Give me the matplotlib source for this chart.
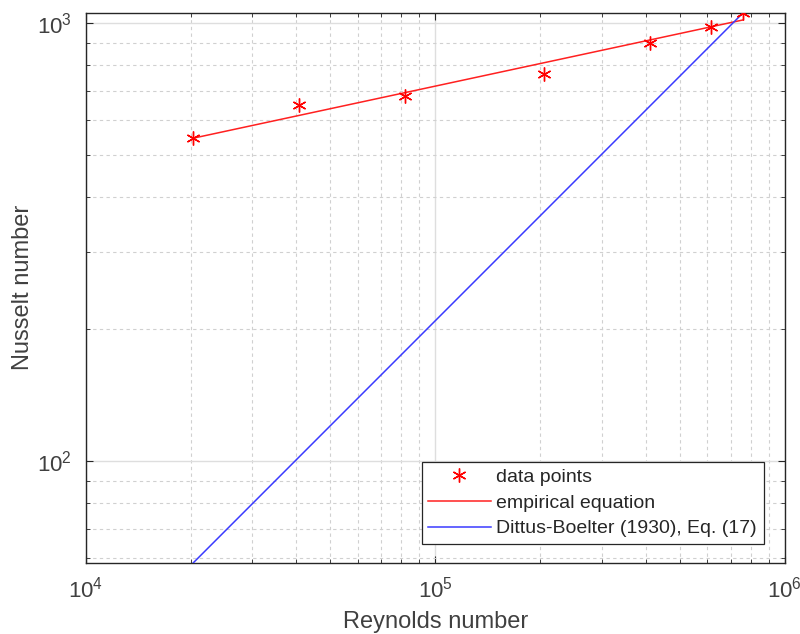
import matplotlib.pyplot as plt
import numpy as np
from matplotlib.ticker import LogLocator, NullFormatter

plt.rcParams['font.family'] = ['Liberation Sans', 'DejaVu Sans']
plt.rcParams['mathtext.fontset'] = 'custom'
plt.rcParams['mathtext.rm'] = 'Liberation Sans'
plt.rcParams['mathtext.it'] = 'Liberation Sans:italic'

# measured points
re_data = [2.03e4, 4.08e4, 8.19e4, 2.05e5, 4.11e5, 6.14e5, 7.57e5]
nu_data = [545, 649, 681, 764, 897, 979, 1050]

# fitted empirical curve and Dittus-Boelter correlation (end points)
re_line = [2.03e4, 7.57e5]
nu_emp = [545, 1014]
nu_db = [58.5, 1050]

txt = '#404040'

fig = plt.figure(figsize=(8, 6.34), dpi=100)
ax = fig.add_axes([0.107, 0.112, 0.874, 0.868])

ax.plot(re_data, nu_data, linestyle='none', marker=(6, 2, 0), color='#ff0000',
        markersize=10, markeredgewidth=1.0, label='data points', zorder=4)
ax.plot(re_line, nu_emp, color='#ff2020', lw=1.1, label='empirical equation', zorder=3)
ax.plot(re_line, nu_db, color='#3a3aff', lw=1.1, label='Dittus-Boelter (1930), Eq. (17)', zorder=3)

ax.set_xscale('log')
ax.set_yscale('log')
ax.set_xlim(1e4, 1e6)
ax.set_ylim(58.5, 1054)

ax.xaxis.set_minor_locator(LogLocator(base=10, subs=np.arange(2, 10)))
ax.yaxis.set_minor_locator(LogLocator(base=10, subs=np.arange(2, 10)))
ax.xaxis.set_minor_formatter(NullFormatter())
ax.yaxis.set_minor_formatter(NullFormatter())

ax.grid(which='major', color='#dedede', lw=1.0, linestyle='-')
ax.grid(which='minor', color='#d0d0d0', lw=0.8, linestyle=(0, (3, 3)))
ax.set_axisbelow(True)

ax.tick_params(which='both', direction='in', top=True, right=True, colors='#262626',
               labelcolor=txt, labelsize=16)
ax.tick_params(which='major', length=5, width=0.8, pad=10)
ax.tick_params(which='minor', length=3, width=0.6)
for s in ax.spines.values():
    s.set_color('#262626')
    s.set_linewidth(1.0)

ax.set_xlabel('Reynolds number', fontsize=17, color=txt, labelpad=6)
ax.set_ylabel('Nusselt number', fontsize=17, color=txt, labelpad=2)

leg = ax.legend(loc='lower right', bbox_to_anchor=(0.970, 0.034), borderaxespad=0,
                fontsize=14, fancybox=False, framealpha=1, edgecolor='#262626',
                handlelength=3.2, handletextpad=0.3, labelspacing=0.42, borderpad=0.35)
leg.get_frame().set_linewidth(0.9)
for t in leg.get_texts():
    t.set_color('#262626')

fig.savefig('out.png', dpi=100)
